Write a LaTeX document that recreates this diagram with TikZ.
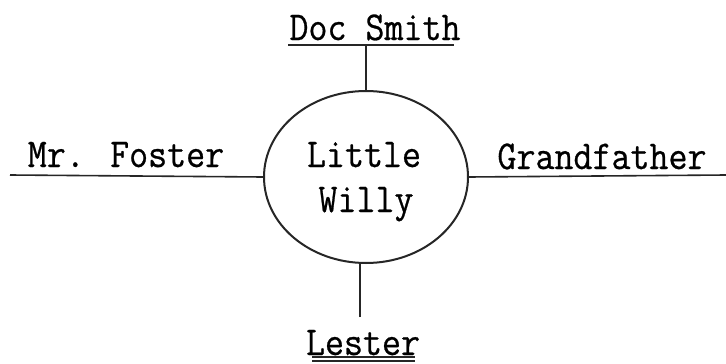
\documentclass[tikz,border=0pt]{standalone}
\usepackage{fontspec}
\newfontface\twf{Latin Modern Mono}[FakeBold=0.6, FakeStretch=0.9]
\usetikzlibrary{shapes.geometric}
\tikzset{
  lbl/.style={inner sep=0pt, anchor=base, font=\twf\fontsize{41}{46}\selectfont},
  conn/.style={line width=1.6pt, black!85},
  rim/.style={ellipse, draw=black!85, line width=2pt, minimum width=204pt, minimum height=172pt, inner sep=0pt}
}
\begin{document}
\begin{tikzpicture}[x=1pt,y=-1pt]
\useasboundingbox[fill=white] (0,0) rectangle (726,364);
% central ellipse
\node[rim] (w) at (366,177) {};
\node[lbl] (l1) at (364,167) {Little};
\node[lbl] (l2) at (366,212) {Willy};
% labels
\node[lbl] (ds) at (375,40) {Doc Smith};
\node[lbl] (mf) at (126,167) {Mr. Foster};
\node[lbl] (gf) at (602,169) {Grandfather};
\node[lbl] (ls) at (363,355) {Lester};
% line ends
\coordinate (dsa) at (288,45);
\coordinate (dsb) at (454,45);
\coordinate (mfa) at (10,175);
\coordinate (gfb) at (726,175);
\coordinate (lsa) at (360,317);
\coordinate (lu1a) at (312,357);
\coordinate (lu1b) at (415,357);
\coordinate (lu2a) at (312,361);
\coordinate (lu2b) at (415,361);
% connectors
\draw[conn] (dsa) -- (dsb);
\draw[conn, line width=1.4pt] (w.north) -- (w.north |- dsa);
\draw[conn] (mfa) -- (w.west);
\draw[conn] (w.east) -- (gfb);
\draw[conn, line width=1.4pt] (lsa) -- (lsa |- w.south);
\draw[conn, line width=1.1pt] (lu1a) -- (lu1b);
\draw[conn, line width=1.1pt] (lu2a) -- (lu2b);
\end{tikzpicture}
\end{document}
